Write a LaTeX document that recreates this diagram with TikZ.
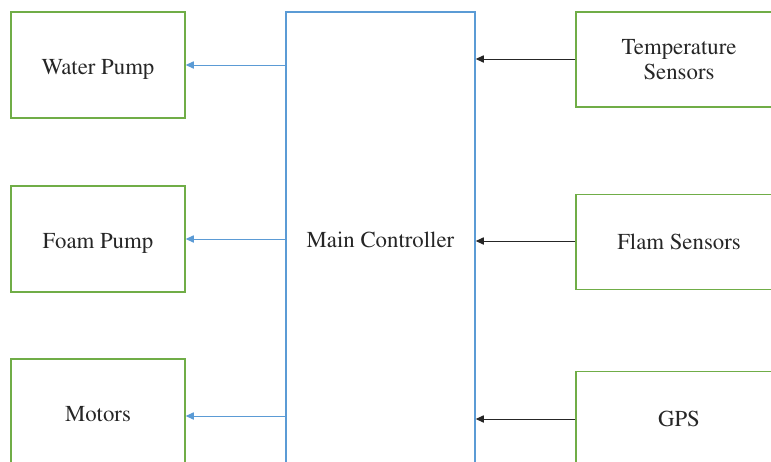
\documentclass[tikz,border=0pt]{standalone}
\usepackage[T1]{fontenc}
\usepackage{times}
\usetikzlibrary{arrows.meta,positioning}
\definecolor{boxgreen}{RGB}{112,173,71}
\definecolor{ctrlblue}{RGB}{91,155,213}

\begin{document}
\begin{tikzpicture}[
  x=0.5pt, y=-0.5pt,
  every node/.style={font=\fontsize{11.4}{12.6}\selectfont, align=center, text=black!85},
  unit/.style={draw=boxgreen, line width=0.75pt, fill=white, text height=9.5pt, text depth=0pt, minimum width=87pt, minimum height=53pt},
  sens/.style={draw=boxgreen, line width=0.75pt, fill=white, text depth=0pt, minimum width=103pt, minimum height=47.5pt},
  ctrl/.style={draw=ctrlblue, line width=0.75pt, fill=white, minimum width=94.5pt, minimum height=228pt},
  outarr/.style={-{Triangle[length=4pt,width=3.6pt]}, ctrlblue, line width=0.5pt},
  inarr/.style={-{Triangle[length=4pt,width=3.6pt]}, black!85, line width=0.5pt}
]
  \fill[white] (0,0) rectangle (771,461);
  \useasboundingbox (0,0) rectangle (771,461);
  \clip (0,0) rectangle (771,461);

  \node[ctrl] (main) at (380.5,240) {Main Controller};

  \node[unit] (water) at (98,65)  {Water Pump};
  \node[unit] (foam)  at (98,239) {Foam Pump};
  \node[unit] (motor) at (98,412) {Motors};

  \node[sens] (temp) at (679,59.5)  {Temperature\\Sensors};
  \node[sens] (flam) at (679,242) {Flam Sensors};
  \node[sens] (gps)  at (679,419)   {GPS};

  \draw[outarr] (main.west |- water.east) -- (water.east);
  \draw[outarr] (main.west |- foam.east) -- (foam.east);
  \draw[outarr] (main.west |- 0,416) coordinate (m3) -- (motor.east |- m3);

  \draw[inarr] (temp.west |- 0,59) coordinate (s1) -- (main.east |- s1);
  \draw[inarr] (flam.west |- 0,241) coordinate (s2) -- (main.east |- s2);
  \draw[inarr] (gps.west)  -- (main.east |- gps.west);
\end{tikzpicture}
\end{document}
